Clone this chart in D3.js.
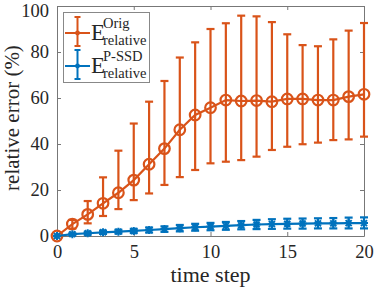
<!DOCTYPE html>
<html>
<head>
<meta charset="utf-8">
<script src="https://cdn.jsdelivr.net/npm/d3@7"></script>
<style>
  body { margin: 0; background: #fff; }
  text { font-family: "Liberation Serif", "DejaVu Serif", serif; fill: #262626; }
</style>
</head>
<body>
<div id="chart"></div>
<script>
// data
var steps = d3.range(0, 21);
var origMean  = [0, 5.2, 9.4, 14.2, 18.8, 24.3, 31.2, 38.0, 46.2, 52.6, 55.8, 59.1, 58.7, 58.9, 58.4, 59.6, 59.6, 59.1, 59.1, 60.6, 61.6];
var origLow   = [0, 3.2, 5.5, 8.7, 11.7, 15.6, 18.5, 22.2, 25.6, 28.7, 31.6, 32.3, 33.0, 34.5, 37.4, 38.8, 39.9, 40.6, 41.7, 42.0, 43.2];
var origHigh  = [0, 7.0, 15.2, 25.5, 37.1, 48.9, 58.4, 67.4, 77.6, 84.2, 90.0, 92.5, 95.8, 95.5, 93.0, 87.7, 83.0, 82.5, 85.5, 89.3, 92.6];
var ssdMean   = [0, 0.8, 1.2, 1.6, 1.9, 2.2, 2.6, 3.0, 3.4, 3.8, 4.1, 4.4, 4.7, 5.0, 5.2, 5.3, 5.4, 5.5, 5.5, 5.6, 5.6];
var ssdLow    = [0, 0.4, 0.6, 0.9, 1.1, 1.3, 1.5, 1.8, 2.0, 2.3, 2.5, 2.7, 2.9, 3.0, 3.1, 3.2, 3.2, 3.3, 3.3, 3.3, 3.3];
var ssdHigh   = [0, 1.2, 1.8, 2.3, 2.7, 3.1, 3.7, 4.2, 4.8, 5.3, 5.7, 6.1, 6.5, 7.0, 7.3, 7.5, 7.6, 7.7, 7.8, 8.0, 8.1];
var xTicks = [0, 5, 10, 15, 20];
var yTicks = [0, 20, 40, 60, 80, 100];

var svgWidth = 374;
var svgHeight = 290;
var margin = { top: 6, right: 10, bottom: 54, left: 57 };
var width = svgWidth - margin.left - margin.right;
var height = svgHeight - margin.top - margin.bottom;

var orange = "#D95319";
var blue = "#0072BD";

var svg = d3.select("#chart")
    .append("svg")
    .attr("width", svgWidth)
    .attr("height", svgHeight);

var g = svg.append("g")
    .attr("transform", `translate(${margin.left}, ${margin.top})`);

var x = d3.scaleLinear().domain([0, 20]).range([0, width]);
var y = d3.scaleLinear().domain([0, 100]).range([height, 0]);

// axes box, MATLAB style (ticks inside, box on)
var axisColor = "#777";
g.append("g")
    .attr("transform", `translate(0, ${height})`)
    .call(d3.axisBottom(x).tickValues(xTicks).tickSizeInner(-4).tickSizeOuter(0).tickPadding(9))
    .call(a => a.select(".domain").attr("stroke", axisColor))
    .call(a => a.selectAll("line").attr("stroke", axisColor))
    .call(a => a.selectAll("text").style("font-size", "18.5px").attr("fill", "#262626").style("font-family", "Liberation Serif"));
g.append("g")
    .call(d3.axisTop(x).tickValues(xTicks).tickSizeInner(-4).tickSizeOuter(0).tickFormat(""))
    .call(a => a.select(".domain").attr("stroke", axisColor))
    .call(a => a.selectAll("line").attr("stroke", axisColor));
g.append("g")
    .call(d3.axisLeft(y).tickValues(yTicks).tickSizeInner(-4).tickSizeOuter(0).tickPadding(8))
    .call(a => a.select(".domain").attr("stroke", axisColor))
    .call(a => a.selectAll("line").attr("stroke", axisColor))
    .call(a => a.selectAll("text").style("font-size", "18.5px").attr("fill", "#262626").style("font-family", "Liberation Serif"))
    .call(a => a.selectAll(".tick text").filter(d => d === 100).attr("dy", "0.55em"));
g.append("g")
    .attr("transform", `translate(${width}, 0)`)
    .call(d3.axisRight(y).tickValues(yTicks).tickSizeInner(-4).tickSizeOuter(0).tickFormat(""))
    .call(a => a.select(".domain").attr("stroke", axisColor))
    .call(a => a.selectAll("line").attr("stroke", axisColor));

// axis labels
svg.append("text")
    .attr("transform", "rotate(-90)")
    .attr("x", -(margin.top + height / 2) + 3)
    .attr("y", 19)
    .attr("text-anchor", "middle")
    .style("font-size", "21px")
    .text("relative error (%)");

svg.append("text")
    .attr("x", margin.left + width / 2)
    .attr("y", 282)
    .attr("text-anchor", "middle")
    .style("font-size", "22px")
    .text("time step");

function drawSeries(mean, low, high, color, lw, capW) {
    var s = g.append("g");
    var pts = steps.map((t, i) => ({ t: t, m: mean[i], lo: low[i], hi: high[i] }));
    s.append("path")
        .datum(pts)
        .attr("fill", "none")
        .attr("stroke", color)
        .attr("stroke-width", lw)
        .attr("d", d3.line().x(d => x(d.t)).y(d => y(d.m)));
    var bars = s.selectAll(".bar").data(pts).enter().append("g");
    bars.append("line")
        .attr("x1", d => x(d.t)).attr("x2", d => x(d.t))
        .attr("y1", d => y(d.lo)).attr("y2", d => y(d.hi))
        .attr("stroke", color).attr("stroke-width", lw);
    bars.append("line")
        .attr("x1", d => x(d.t) - capW).attr("x2", d => x(d.t) + capW)
        .attr("y1", d => y(d.lo)).attr("y2", d => y(d.lo))
        .attr("stroke", color).attr("stroke-width", lw);
    bars.append("line")
        .attr("x1", d => x(d.t) - capW).attr("x2", d => x(d.t) + capW)
        .attr("y1", d => y(d.hi)).attr("y2", d => y(d.hi))
        .attr("stroke", color).attr("stroke-width", lw);
    return { s: s, pts: pts };
}

var o = drawSeries(origMean, origLow, origHigh, orange, 2.2, 4);
o.s.selectAll(".mk").data(o.pts).enter().append("circle")
    .attr("cx", d => x(d.t)).attr("cy", d => y(d.m))
    .attr("r", 5.3)
    .attr("fill", "none")
    .attr("stroke", orange)
    .attr("stroke-width", 2.2);

var b = drawSeries(ssdMean, ssdLow, ssdHigh, blue, 2.2, 4);
b.s.selectAll(".mk").data(b.pts).enter().append("path")
    .attr("transform", d => `translate(${x(d.t)}, ${y(d.m)})`)
    .attr("d", "M-4,0H4M0,-4V4M-3,-3L3,3M-3,3L3,-3")
    .attr("fill", "none")
    .attr("stroke", blue)
    .attr("stroke-width", 2);

// legend
var leg = svg.append("g");
leg.append("rect")
    .attr("x", 63.5).attr("y", 12.5)
    .attr("width", 86).attr("height", 70)
    .attr("fill", "#fff")
    .attr("stroke", "#888")
    .attr("stroke-width", 1);

var legItems = [
    { color: orange, sup: "Orig", cy: 33 },
    { color: blue, sup: "P-SSD", cy: 66 }
];
legItems.forEach(function(it) {
    leg.append("line").attr("x1", 65).attr("x2", 90).attr("y1", it.cy).attr("y2", it.cy)
        .attr("stroke", it.color).attr("stroke-width", 2);
    leg.append("line").attr("x1", 77.5).attr("x2", 77.5).attr("y1", it.cy - 16).attr("y2", it.cy + 13)
        .attr("stroke", it.color).attr("stroke-width", 2);
    leg.append("line").attr("x1", 74.5).attr("x2", 80.5).attr("y1", it.cy - 16).attr("y2", it.cy - 16)
        .attr("stroke", it.color).attr("stroke-width", 2);
    leg.append("line").attr("x1", 74.5).attr("x2", 80.5).attr("y1", it.cy + 13).attr("y2", it.cy + 13)
        .attr("stroke", it.color).attr("stroke-width", 2);
    leg.append("circle").attr("cx", 77.5).attr("cy", it.cy).attr("r", 2.4).attr("fill", it.color);
    leg.append("text").attr("x", 91).attr("y", it.cy + 7).style("font-size", "23px").text("E");
    leg.append("text").attr("x", 103).attr("y", it.cy - 5).style("font-size", "14.5px").text(it.sup);
    leg.append("text").attr("x", 103).attr("y", it.cy + 12).style("font-size", "14.5px").text("relative");
});
</script>
</body>
</html>
